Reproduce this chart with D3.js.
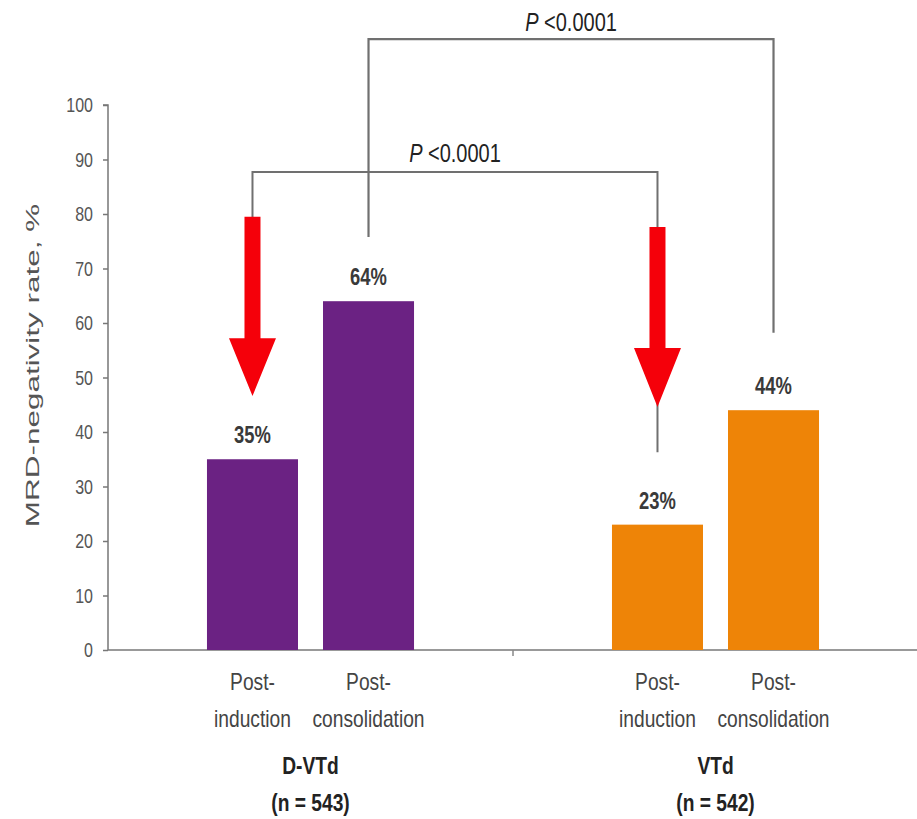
<!DOCTYPE html>
<html>
<head>
<meta charset="utf-8">
<script src="https://cdn.jsdelivr.net/npm/d3@7"></script>
<style>
  html, body { margin: 0; padding: 0; background: #ffffff; }
  svg { display: block; }
  text { font-family: "Liberation Sans", Arial, sans-serif; }
</style>
</head>
<body>
<div id="chart"></div>
<script>
// ---- data ----
const groups = ["D-VTd", "VTd"];
const groupN = ["(n = 543)", "(n = 542)"];
const phases = ["Post-induction", "Post-consolidation"];
const phaseLines = [["Post-", "induction"], ["Post-", "consolidation"]];
const dvtdValues = [35, 64];
const vtdValues = [23, 44];
const valueLabels = [["35%", "64%"], ["23%", "44%"]];
const yTicks = [0, 10, 20, 30, 40, 50, 60, 70, 80, 90, 100];
const pValues = ["<0.0001", "<0.0001"];

const series = [dvtdValues, vtdValues];
const colors = ["#6b2283", "#ee8407"];

const W = 917, H = 819;
const svg = d3.select("#chart").append("svg").attr("width", W).attr("height", H);
svg.append("rect").attr("width", W).attr("height", H).attr("fill", "#fff");

const y = d3.scaleLinear().domain([0, 100]).range([650, 105]);
const x0 = d3.scaleBand().domain(groups).range([108, 918]);
const x1 = d3.scaleBand().domain(phases).range([0, x0.bandwidth()])
  .paddingInner(0.2155).paddingOuter(0.853);

const SX = 0.8; // horizontal condensing of the (stretched) original text

function txt(x, yy, s, o = {}) {
  const t = svg.append("text")
    .attr("transform", `translate(${x},${yy}) scale(${o.sx ?? SX},1)`)
    .attr("text-anchor", o.anchor || "middle")
    .attr("font-size", o.size || 24)
    .attr("font-weight", o.weight || "normal")
    .attr("fill", o.fill || "#333");
  if (o.italicFirst) {
    t.append("tspan").attr("font-style", "italic").text(o.italicFirst);
    t.append("tspan").text(" " + s);
  } else t.text(s);
  return t;
}

// ---- axes ----
const yAxis = d3.axisLeft(y).tickValues(yTicks).tickSize(5).tickPadding(10).tickFormat(d3.format("d"));
const gy = svg.append("g").attr("transform", "translate(108,0)").call(yAxis);
gy.select(".domain").attr("stroke", "#777").attr("stroke-width", 1.5).attr("d", `M-5,${y(100)}H0V${y(0)}`);
gy.selectAll(".tick line").attr("stroke", "#777").attr("stroke-width", 1.5);
gy.selectAll(".tick text").remove();
yTicks.forEach(v => txt(93, y(v) + 7, String(v), { anchor: "end", size: 20, fill: "#555" }));

const xAxis = d3.axisBottom(x0).tickSize(0).tickFormat("");
const gx = svg.append("g").attr("transform", `translate(0,${y(0)})`).call(xAxis);
gx.select(".domain").attr("stroke", "#777").attr("stroke-width", 1.5).attr("d", `M108,0H${x0.range()[1]}`);
// separator tick between the two groups
gx.append("line").attr("x1", x0(groups[1])).attr("x2", x0(groups[1]))
  .attr("y1", 0).attr("y2", 6).attr("stroke", "#888").attr("stroke-width", 1.5);

// y axis title (stretched along its length like the original)
svg.append("text")
  .attr("transform", `translate(39,${(y(20) + y(80)) / 2 - 12}) rotate(-90) scale(1.7,1)`)
  .attr("text-anchor", "middle").attr("font-size", 18.5).attr("fill", "#555")
  .text("MRD-negativity rate, %");

// ---- bars ----
groups.forEach((g, gi) => {
  const gg = svg.append("g");
  gg.selectAll("rect").data(series[gi]).join("rect")
    .attr("x", (d, i) => x0(g) + x1(phases[i]))
    .attr("y", d => y(d))
    .attr("width", x1.bandwidth())
    .attr("height", d => y(0) - y(d))
    .attr("fill", colors[gi]);
  series[gi].forEach((v, i) => {
    const cx = x0(g) + x1(phases[i]) + x1.bandwidth() / 2;
    txt(cx, y(v) - 16, valueLabels[gi][i], { size: 23, weight: "bold", fill: "#3a3a3a" });
    txt(cx, 690, phaseLines[i][0], { size: 24, fill: "#444" });
    txt(cx, 727, phaseLines[i][1], { size: 24, fill: "#444" });
  });
  const gc = x0(g) + x0.bandwidth() / 2;
  txt(gc, 774, g, { size: 24, weight: "bold", fill: "#222" });
  txt(gc, 811, groupN[gi], { size: 24, weight: "bold", fill: "#222" });
});

// ---- comparison brackets ----
const cxOf = (gi, i) => x0(groups[gi]) + x1(phases[i]) + x1.bandwidth() / 2;
const lowerLevel = 87.7, upperLevel = 112.1;
// induction vs induction
svg.append("path")
  .attr("d", `M${cxOf(0,0)},${y(79)}V${y(lowerLevel)}H${cxOf(1,0)}V${y(36.3)}`)
  .attr("fill", "none").attr("stroke", "#707070").attr("stroke-width", 2);
// consolidation vs consolidation
svg.append("path")
  .attr("d", `M${cxOf(0,1)},${y(75.8)}V${y(upperLevel)}H${cxOf(1,1)}V${y(58.2)}`)
  .attr("fill", "none").attr("stroke", "#707070").attr("stroke-width", 2.2);

txt((cxOf(0,0) + cxOf(1,0)) / 2, y(89.5), pValues[0], { size: 25, italicFirst: "P", fill: "#222" });
txt((cxOf(0,1) + cxOf(1,1)) / 2, y(113.6), pValues[1], { size: 25, italicFirst: "P", fill: "#222" });

// ---- red arrows ----
const arrowTop = [79.5, 77.6], arrowHead = [57.2, 55.4], arrowTip = [46.6, 44.6];
groups.forEach((g, gi) => {
  const cx = cxOf(gi, 0), sw = 8, hw = 23.5;
  svg.append("path")
    .attr("d", `M${cx - sw},${y(arrowTop[gi])}H${cx + sw}V${y(arrowHead[gi])}H${cx + hw}L${cx},${y(arrowTip[gi])}L${cx - hw},${y(arrowHead[gi])}H${cx - sw}Z`)
    .attr("fill", "#f5000a");
});
</script>
</body>
</html>
